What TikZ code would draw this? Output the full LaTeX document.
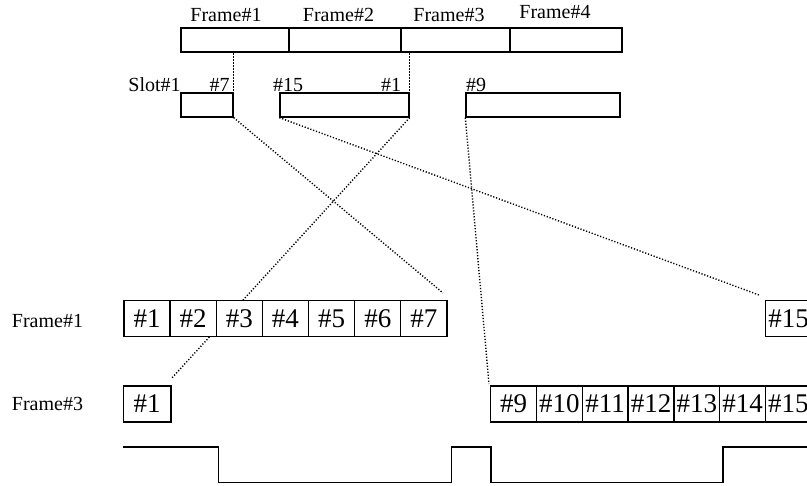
\documentclass[tikz,border=0pt]{standalone}
\usepackage{fontspec}
\setmainfont{Liberation Serif}
\pgfdeclarelayer{bg}
\pgfsetlayers{bg,main}
\begin{document}
\begin{tikzpicture}[x=1pt,y=-1pt,
  lbl/.style={font=\fontsize{20}{24}\selectfont, inner sep=0pt, anchor=base},
  cell/.style={draw, line width=1.3pt, fill=white, inner sep=0pt, minimum height=35.5pt, font=\fontsize{27}{30}\selectfont},
  fbox/.style={draw, line width=1.3pt, inner sep=0pt, minimum height=24pt},
  link/.style={line width=1.4pt, dash pattern=on 1.2pt off 1.8pt},
  wave/.style={line width=1.4pt}]
\useasboundingbox (0,0) rectangle (807,486);

% top frames
\node[fbox, minimum width=108pt] (f1) at (235,40) {};
\node[fbox, minimum width=112pt] (f2) at (345,40) {};
\node[fbox, minimum width=109pt] (f3) at (455.5,40) {};
\node[fbox, minimum width=112pt] (f4) at (566,40) {};
\node[lbl] (tf1) at (226,22) {Frame\#1};
\node[lbl] (tf2) at (338.5,22) {Frame\#2};
\node[lbl] (tf3) at (449,22) {Frame\#3};
\node[lbl] (tf4) at (555,19) {Frame\#4};

% slots
\node[fbox, minimum width=52pt] (s1) at (207,105) {};
\node[fbox, minimum width=129pt] (s2) at (344.5,105) {};
\node[fbox, minimum width=154pt] (s3) at (543,105) {};
\node[lbl] (ls1) at (154.5,92) {Slot\#1};
\node[lbl] (ls7) at (219.5,92) {\#7};
\node[lbl] (ls15) at (288,92) {\#15};
\node[lbl] (lsa) at (391,92) {\#1};
\node[lbl] (ls9) at (476,92) {\#9};

% row labels
\node[lbl] (rl1) at (47.5,328) {Frame\#1};
\node[lbl] (rl3) at (47.5,411) {Frame\#3};

% Frame#1 row
\foreach \i in {1,...,7}
  \node[cell, minimum width=46.14pt] (a\i) at ({124+46.14*(\i-0.5)},318.5) {\#\i};
\node[cell, minimum width=46pt] (a15) at (788.7,318.5) {\#15};

% Frame#3 row
\node[cell, minimum width=47.7pt, minimum height=36pt] (b1) at (147.15,404) {\#1};
\foreach \i [count=\k from 0] in {9,...,15}
  \node[cell, minimum width=45.8pt, minimum height=36pt] (b\i) at ({490.7+45.8*(\k+0.5)},404) {\#\i};

% connector ends
\coordinate (e7) at (443,293);
\coordinate (e1) at (171,379);
\coordinate (e15) at (759,295);
\coordinate (e9) at (489,384);

\begin{pgfonlayer}{bg}
\draw[link] (s1.south east) -- (s1.south east |- f1.south);
\draw[link] (s2.south east) -- (s2.south east |- f3.south);
\draw[link] (s1.south east) -- (e7);
\draw[link] (s2.south east) -- (e1);
\draw[link] (s2.south west) -- (e15);
\draw[link] (s3.south west) -- (e9);
\end{pgfonlayer}

% waveform
\draw[wave] (123.4,447) -- (218.6,447) -- (218.6,482.5) -- (451.5,482.5) -- (451.5,447)
  -- (491,447) -- (491,482.5) -- (723,482.5) -- (723,447) -- (812,447);
\end{tikzpicture}
\end{document}
